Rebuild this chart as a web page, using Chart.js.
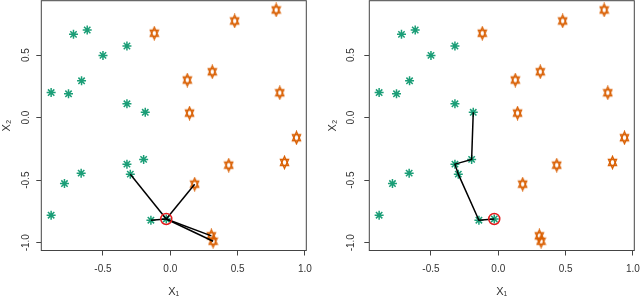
<!DOCTYPE html>
<html>
<head>
<meta charset="utf-8">
<script src="https://cdn.jsdelivr.net/npm/chart.js@4"></script>
<style>
  body { margin: 0; background: #fff; }
  .wrap { display: flex; width: 640px; height: 299px; }
  canvas { display: block; }
</style>
</head>
<body>
<div class="wrap">
  <canvas id="left" width="320" height="299"></canvas>
  <canvas id="right" width="320" height="299"></canvas>
</div>
<script>
// class 1 (green asterisks)
const greenX = [-0.885, -0.756, -0.719, -0.617, -0.659, -0.50, -0.322, -0.322, -0.186,
                -0.198, -0.322, -0.297, -0.662, -0.786, -0.885, -0.144];
const greenY = [0.20, 0.19, 0.665, 0.70, 0.294, 0.497, 0.572, 0.11, 0.042,
                -0.334, -0.372, -0.452, -0.444, -0.527, -0.78, -0.82];
// class 2 (orange hexagrams)
const orangeX = [-0.119, 0.478, 0.786, 0.126, 0.312, 0.813, 0.143, 0.937,
                 0.434, 0.848, 0.181, 0.305, 0.318];
const orangeY = [0.674, 0.772, 0.86, 0.30, 0.366, 0.198, 0.036, -0.161,
                 -0.38, -0.358, -0.532, -0.945, -0.988];
// test observation
const testX = [-0.03];
const testY = [-0.81];
// left panel: the five nearest neighbours
const nearX = [-0.297, 0.181, -0.144, 0.305, 0.318];
const nearY = [-0.452, -0.532, -0.82, -0.945, -0.988];
// right panel: chain through neighbours
const pathX = [-0.03, -0.144, -0.297, -0.322, -0.198, -0.186];
const pathY = [-0.81, -0.82, -0.452, -0.372, -0.334, 0.042];

const GREEN = '#1b9e77';
const ORANGE = '#d95f02';
const FONT = "'Liberation Sans', Arial, sans-serif";

function pts(xs, ys) {
  return xs.map((x, i) => ({ x: x, y: ys[i] }));
}

// R's pch 11 (two overlapping triangles), a bit taller than wide
function hexagram() {
  const c = document.createElement('canvas');
  c.width = 11; c.height = 15;
  const g = c.getContext('2d');
  const cx = 5.5, cy = 7.5, rx = 4, ry = 6;
  g.strokeStyle = ORANGE;
  g.lineWidth = 1.4;
  g.lineJoin = 'miter';
  [1, -1].forEach(s => {
    g.beginPath();
    g.moveTo(cx, cy - s * ry);
    g.lineTo(cx - rx, cy + s * ry / 2);
    g.lineTo(cx + rx, cy + s * ry / 2);
    g.closePath();
    g.stroke();
  });
  return c;
}
const HEX = hexagram();

const boxPlugin = {
  id: 'box',
  beforeDatasetsDraw(chart) {
    const a = chart.chartArea;
    const ctx = chart.ctx;
    ctx.save();
    ctx.strokeStyle = '#444';
    ctx.lineWidth = 1;
    ctx.strokeRect(a.left, a.top, a.right - a.left, a.bottom - a.top);
    ctx.restore();
  }
};

function pointSets() {
  return [
    {
      data: pts(testX, testY), pointStyle: 'circle', pointRadius: 5.5,
      borderColor: '#e41a1c', backgroundColor: 'rgba(0,0,0,0)', pointBorderWidth: 1.5, order: 0
    },
    {
      data: pts(greenX.concat(testX), greenY.concat(testY)), pointStyle: 'star', pointRadius: 4.5,
      borderColor: GREEN, backgroundColor: GREEN, pointBorderWidth: 1.5, order: 3
    },
    {
      data: pts(orangeX, orangeY), pointStyle: HEX, pointRadius: 6, order: 3
    }
  ];
}

function lineSet(xs, ys) {
  return {
    data: pts(xs, ys), showLine: true, pointRadius: 0,
    borderColor: '#000', borderWidth: 1.5, order: 1
  };
}

function makeChart(id, lines, yAxisWidth, padRight, yLabelPad, yTitlePad) {
  new Chart(document.getElementById(id), {
    type: 'scatter',
    data: { datasets: pointSets().concat(lines) },
    options: {
      responsive: false,
      animation: false,
      events: [],
      layout: { autoPadding: false, padding: { top: 0.7, right: padRight, left: 0, bottom: 0 } },
      plugins: { legend: { display: false }, tooltip: { enabled: false } },
      scales: {
        x: {
          min: -0.958, max: 1.01,
          border: { display: false },
          grid: { drawOnChartArea: false, tickLength: 5, color: '#444' },
          ticks: {
            stepSize: 0.5, includeBounds: false, padding: 8, color: '#333',
            font: { family: FONT, size: 10 },
            callback: v => v.toFixed(1), maxRotation: 0
          },
          title: { display: true, text: 'X\u2081', color: '#333', padding: { top: 0, bottom: 0 },
                   font: { family: FONT, size: 11 } },
          afterFit: s => { s.height = 48.5; s.paddingLeft = 0; s.paddingRight = 0; }
        },
        y: {
          min: -1.062, max: 0.934,
          border: { display: false },
          grid: { drawOnChartArea: false, tickLength: 5, color: '#444' },
          ticks: {
            stepSize: 0.5, includeBounds: false, padding: yLabelPad, color: '#333',
            font: { family: FONT, size: 10 }, minRotation: 90, maxRotation: 90,
            crossAlign: 'center',
            callback: v => v.toFixed(1)
          },
          title: { display: true, text: 'X\u2082', color: '#333', padding: { top: yTitlePad, bottom: 0 },
                   font: { family: FONT, size: 11 } },
          afterFit: s => { s.width = yAxisWidth; s.paddingTop = 0; s.paddingBottom = 0; }
        }
      }
    },
    plugins: [boxPlugin]
  });
}

const leftLines = nearX.map((x, i) => lineSet([testX[0], x], [testY[0], nearY[i]]));
makeChart('left', leftLines, 41.3, 13.7, 1, 0);
makeChart('right', [lineSet(pathX, pathY)], 49.3, 5.7, 4, 6);
</script>
</body>
</html>
